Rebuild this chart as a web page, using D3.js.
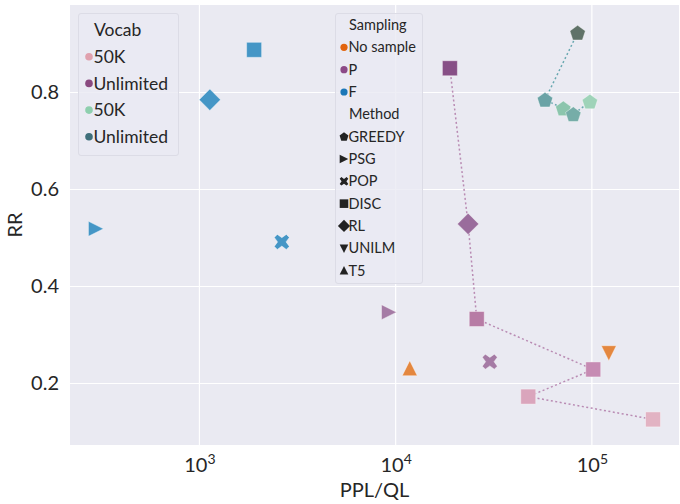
<!DOCTYPE html>
<html>
<head>
<meta charset="utf-8">
<script src="https://cdn.jsdelivr.net/npm/d3@7"></script>
<style>
  body { margin: 0; background: #fff; }
  text { font-family: Lato, "Noto Sans", sans-serif; fill: #262626; }
</style>
</head>
<body>
<div id="chart"></div>
<script>
// each point: method, ppl/ql value, rr value, shade key
const methods = ["PSG", "DISC", "RL", "POP", "PSG", "T5", "DISC", "RL", "DISC", "POP", "DISC", "UNILM", "DISC", "DISC",
                 "GREEDY", "GREEDY", "GREEDY", "GREEDY", "GREEDY"];
const pplValues = [297, 1900, 1130, 2630, 9250, 11800, 18900, 23400, 25900, 30200, 101600, 122000, 47400, 205000,
                   84600, 57700, 71500, 80400, 97700];
const rrValues = [0.519, 0.888, 0.785, 0.492, 0.347, 0.230, 0.850, 0.529, 0.333, 0.245, 0.229, 0.264, 0.173, 0.126,
                  0.923, 0.785, 0.767, 0.755, 0.781];
const shades = ["F", "F", "F", "F", "P3", "N", "P1", "P2", "P4", "P3", "P5", "N", "P6", "P7",
                "G1", "G2", "G4", "G3", "G5"];
// trajectories drawn as dotted lines (indices into the arrays above)
const purpleTrail = [6, 7, 8, 10, 12, 13];
const greenTrail = [14, 15, 16, 17, 18];

const vocabLabels = ["50K", "Unlimited", "50K", "Unlimited"];
const samplingLabels = ["No sample", "P", "F"];
const methodLabels = ["GREEDY", "PSG", "POP", "DISC", "RL", "UNILM", "T5"];
const yTicks = [0.2, 0.4, 0.6, 0.8];
const xTicks = [1e3, 1e4, 1e5];

const shadeColor = d3.scaleOrdinal()
  .domain(["F", "N", "P1", "P2", "P3", "P4", "P5", "P6", "P7", "G1", "G2", "G3", "G4", "G5"])
  .range(["#4596c6", "#e4873f", "#874f86", "#9a6c9c", "#a57ba5", "#b77ca5", "#c68bb3", "#daa5bc", "#e2b3c3",
          "#607268", "#6aa3a6", "#76ada8", "#8cc5ad", "#9fd3b9"]);
const vocabColor = ["#e0a1ae", "#8a4a80", "#8ecfae", "#3f6f7b"];
const samplingColor = ["#e2640e", "#8c4a87", "#1b77b8"];

const width = 680, height = 504;
const margin = {top: 5, right: 1, bottom: 59, left: 70};

const svg = d3.select("#chart").append("svg")
  .attr("width", width)
  .attr("height", height);

const x = d3.scaleLog()
  .domain([219, 278000])
  .range([margin.left, width - margin.right]);
const y = d3.scaleLinear()
  .domain([0.0732, 0.9804])
  .range([height - margin.bottom, margin.top]);

svg.append("rect")
  .attr("x", margin.left).attr("y", margin.top)
  .attr("width", width - margin.left - margin.right)
  .attr("height", height - margin.top - margin.bottom)
  .attr("fill", "#eaeaf2");

// grid
svg.append("g").selectAll("line").data(xTicks).join("line")
  .attr("x1", d => x(d)).attr("x2", d => x(d))
  .attr("y1", margin.top).attr("y2", height - margin.bottom)
  .attr("stroke", "#fff").attr("stroke-width", 1.2);
svg.append("g").selectAll("line").data(yTicks).join("line")
  .attr("x1", margin.left).attr("x2", width - margin.right)
  .attr("y1", d => y(d)).attr("y2", d => y(d))
  .attr("stroke", "#fff").attr("stroke-width", 1.2);

// axes tick labels
const yAxis = svg.append("g")
  .attr("transform", `translate(${margin.left},0)`)
  .call(d3.axisLeft(y).tickValues(yTicks).tickSize(0).tickPadding(11).tickFormat(d3.format(".1f")));
yAxis.select(".domain").remove();
yAxis.selectAll("text").attr("font-size", 20).attr("font-family", "Lato").attr("fill", "#262626");

const xAxis = svg.append("g")
  .attr("transform", `translate(0,${height - margin.bottom})`)
  .call(d3.axisBottom(x).tickValues(xTicks).tickSize(0).tickPadding(10).tickFormat(""));
xAxis.select(".domain").remove();
xAxis.selectAll(".tick").append("text")
  .attr("y", 27)
  .attr("text-anchor", "middle")
  .attr("font-size", 20)
  .attr("fill", "#262626")
  .each(function(d) {
    const t = d3.select(this);
    t.append("tspan").text("10");
    t.append("tspan").attr("dy", -8).attr("font-size", 14).text(Math.round(Math.log10(d)));
  });

svg.append("text")
  .attr("x", (margin.left + width - margin.right) / 2)
  .attr("y", 497)
  .attr("text-anchor", "middle")
  .attr("font-size", 20)
  .text("PPL/QL");
svg.append("text")
  .attr("transform", `translate(22,${(margin.top + height - margin.bottom) / 2}) rotate(-90)`)
  .attr("text-anchor", "middle")
  .attr("font-size", 20)
  .text("RR");

// marker shapes, r = half size
function shape(method, r) {
  switch (method) {
    case "DISC":
      return `M${-r},${-r}H${r}V${r}H${-r}Z`;
    case "RL": {
      const d = r * 1.42;
      return `M0,${-d}L${d},0L0,${d}L${-d},0Z`;
    }
    case "PSG":
      return `M${r},0L${-r},${-r}L${-r},${r}Z`;
    case "UNILM":
      return `M${-r},${-r * 0.9}L${r},${-r * 0.9}L0,${r * 1.1}Z`;
    case "T5":
      return `M${-r},${r * 0.9}L${r},${r * 0.9}L0,${-r * 1.1}Z`;
    case "GREEDY": {
      const pts = d3.range(5).map(i => {
        const a = -Math.PI / 2 + i * 2 * Math.PI / 5;
        return [r * 1.08 * Math.cos(a), r * 1.08 * Math.sin(a) + r * 0.08];
      });
      return "M" + pts.map(p => p.join(",")).join("L") + "Z";
    }
    case "POP": {
      const a = r, w = r * 0.4;
      const p = [[0, -w * 1.4], [a - w, -a], [a, -a + w], [w * 1.4, 0], [a, a - w], [a - w, a], [0, w * 1.4],
                 [-a + w, a], [-a, a - w], [-w * 1.4, 0], [-a, -a + w], [-a + w, -a]];
      return "M" + p.map(q => q.join(",")).join("L") + "Z";
    }
  }
}

const points = d3.range(methods.length).map(i => ({
  method: methods[i], ppl: pplValues[i], rr: rrValues[i], shade: shades[i]
}));

const line = d3.line().x(d => x(d.ppl)).y(d => y(d.rr));

svg.append("path")
  .datum(purpleTrail.map(i => points[i]))
  .attr("d", line)
  .attr("fill", "none")
  .attr("stroke", "#b98bb3")
  .attr("stroke-width", 1.5)
  .attr("stroke-dasharray", "2,2.5");
svg.append("path")
  .datum(greenTrail.map(i => points[i]))
  .attr("d", line)
  .attr("fill", "none")
  .attr("stroke", "#69a8b0")
  .attr("stroke-width", 1.5)
  .attr("stroke-dasharray", "2,2.5");

svg.append("g").selectAll("path").data(points).join("path")
  .attr("transform", d => `translate(${x(d.ppl)},${y(d.rr)})`)
  .attr("d", d => shape(d.method, 7.5))
  .attr("fill", d => shadeColor(d.shade))
  .attr("stroke", "#fff")
  .attr("stroke-opacity", 0.4)
  .attr("stroke-width", 1);

// legends
function legendBox(x0, y0, w, h) {
  svg.append("rect")
    .attr("x", x0).attr("y", y0).attr("width", w).attr("height", h)
    .attr("rx", 2.5)
    .attr("fill", "#eaeaf2").attr("fill-opacity", 0.8)
    .attr("stroke", "#dcdce6");
}

legendBox(78.5, 13.5, 100, 142);
const leg1 = svg.append("g");
leg1.append("text").attr("x", 94).attr("y", 30).attr("dy", "0.35em").attr("font-size", 17.5).text("Vocab");
vocabLabels.forEach((lab, i) => {
  const cy = 56.7 + i * 26.7;
  leg1.append("circle").attr("cx", 89).attr("cy", cy).attr("r", 3.8).attr("fill", vocabColor[i]);
  leg1.append("text").attr("x", 93.5).attr("y", cy).attr("dy", "0.35em").attr("font-size", 17.5).text(lab);
});

legendBox(335.5, 13.5, 87, 270);
const leg2 = svg.append("g");
const row = i => 25 + i * 22.33;
leg2.append("text").attr("x", 349).attr("y", row(0)).attr("dy", "0.35em").attr("font-size", 14.5).text("Sampling");
samplingLabels.forEach((lab, i) => {
  leg2.append("circle").attr("cx", 344).attr("cy", row(i + 1)).attr("r", 3.6).attr("fill", samplingColor[i]);
  leg2.append("text").attr("x", 348.5).attr("y", row(i + 1)).attr("dy", "0.35em").attr("font-size", 14.5).text(lab);
});
leg2.append("text").attr("x", 349).attr("y", row(4)).attr("dy", "0.35em").attr("font-size", 14.5).text("Method");
methodLabels.forEach((lab, i) => {
  const cy = row(i + 5);
  leg2.append("path")
    .attr("transform", `translate(344,${cy})`)
    .attr("d", shape(lab, 4.3))
    .attr("fill", "#222");
  leg2.append("text").attr("x", 348.5).attr("y", cy).attr("dy", "0.35em").attr("font-size", 14.5).text(lab);
});
</script>
</body>
</html>
